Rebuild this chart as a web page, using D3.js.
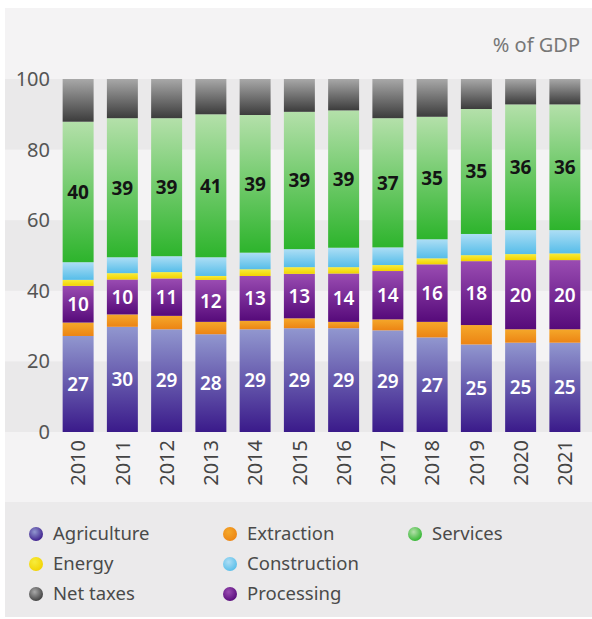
<!DOCTYPE html>
<html>
<head>
<meta charset="utf-8">
<script src="https://cdn.jsdelivr.net/npm/d3@7"></script>
<style>
  body { margin: 0; background: #fff; }
  text { font-family: "Noto Sans", sans-serif; }
</style>
</head>
<body>
<svg id="chart" width="592" height="619"></svg>
<script>
// shares of GDP, bottom to top of each bar
var years = ['2010', '2011', '2012', '2013', '2014', '2015', '2016', '2017', '2018', '2019', '2020', '2021']
var agriculture = [27.2, 29.8, 29.1, 27.7, 29.1, 29.4, 29.4, 28.8, 26.8, 24.8, 25.3, 25.3]
var extraction = [3.8, 3.5, 3.8, 3.5, 2.4, 2.8, 1.8, 3.1, 4.4, 5.5, 3.8, 3.8]
var processing = [10.4, 9.9, 10.6, 11.9, 12.7, 12.6, 13.7, 13.7, 16.3, 18.1, 19.6, 19.6]
var energy = [1.7, 1.8, 1.8, 1.1, 1.9, 1.9, 1.8, 1.7, 1.7, 1.7, 1.7, 1.9]
var construction = [5.0, 4.5, 4.5, 5.3, 4.7, 5.1, 5.5, 5.0, 5.4, 6.0, 6.8, 6.6]
var services = [39.8, 39.4, 39.1, 40.5, 39.0, 38.9, 38.9, 36.6, 34.7, 35.4, 35.6, 35.6]
var netTaxes = [12.1, 11.1, 11.1, 10.0, 10.2, 9.3, 8.9, 11.1, 10.7, 8.5, 7.2, 7.2]
var yTicks = [0, 20, 40, 60, 80, 100]

var series = [
  { key: 'Agriculture', values: agriculture, top: '#9197cf', bottom: '#3a1a8a', label: '#fff' },
  { key: 'Extraction', values: extraction, top: '#f5a82a', bottom: '#ec8414', label: null },
  { key: 'Processing', values: processing, top: '#9a4cb2', bottom: '#560a7a', label: '#fff' },
  { key: 'Energy', values: energy, top: '#f7ec3c', bottom: '#f2d200', label: null },
  { key: 'Construction', values: construction, top: '#addef5', bottom: '#56bde9', label: null },
  { key: 'Services', values: services, top: '#b4e0aa', bottom: '#2db42c', label: '#141414' },
  { key: 'Net taxes', values: netTaxes, top: '#a8a8a8', bottom: '#3c3c3c', label: null }
]
var legendOrder = ['Agriculture', 'Energy', 'Net taxes', 'Extraction', 'Construction', 'Processing', 'Services']

var svg = d3.select('#chart')

// panels
svg.append('rect').attr('x', 5).attr('y', 8).attr('width', 587).attr('height', 494).attr('fill', '#f4f3f4')
svg.append('rect').attr('x', 5).attr('y', 502).attr('width', 587).attr('height', 115).attr('fill', '#ebeaeb')

var x = d3.scaleBand().domain(years).range([56, 587]).paddingInner(0.3).paddingOuter(0.15)
var y = d3.scaleLinear().domain([0, 100]).range([432, 79])

// alternating bands: 0-20, 40-60, 80-100
;[[0, 20], [40, 60], [80, 100]].forEach(function (b) {
  svg.append('rect')
    .attr('x', 5).attr('width', 587)
    .attr('y', y(b[1]))
    .attr('height', y(b[0]) - y(b[1]))
    .attr('fill', '#eae9ea')
})

// gradients
var defs = svg.append('defs')
series.forEach(function (s, k) {
  var g = defs.append('linearGradient').attr('id', 'grad' + k)
    .attr('x1', 0).attr('y1', 0).attr('x2', 0).attr('y2', 1)
  g.append('stop').attr('offset', '0%').attr('stop-color', s.top)
  g.append('stop').attr('offset', '100%').attr('stop-color', s.bottom)
  var r = defs.append('radialGradient').attr('id', 'dot' + k).attr('cx', '40%').attr('cy', '35%').attr('r', '70%')
  r.append('stop').attr('offset', '0%').attr('stop-color', s.top)
  r.append('stop').attr('offset', '100%').attr('stop-color', s.bottom)
})

var table = years.map(function (yr, i) {
  var row = { year: yr }
  series.forEach(function (s) { row[s.key] = s.values[i] })
  return row
})
var stacked = d3.stack().keys(series.map(function (s) { return s.key }))(table)

var layers = svg.append('g').selectAll('g')
  .data(stacked)
  .join('g')
  .attr('fill', function (d, k) { return 'url(#grad' + k + ')' })

layers.selectAll('rect')
  .data(function (d) { return d })
  .join('rect')
  .attr('x', function (d) { return x(d.data.year) })
  .attr('width', x.bandwidth())
  .attr('y', function (d) { return y(d[1]) })
  .attr('height', function (d) { return y(d[0]) - y(d[1]) })

// value labels
stacked.forEach(function (layer, k) {
  var s = series[k]
  if (!s.label) return
  svg.append('g').selectAll('text')
    .data(layer)
    .join('text')
    .attr('x', function (d) { return x(d.data.year) + x.bandwidth() / 2 })
    .attr('y', function (d) { return (y(d[0]) + y(d[1])) / 2 })
    .attr('dy', '0.36em')
    .attr('text-anchor', 'middle')
    .attr('font-size', '19px')
    .attr('font-weight', s.key === 'Services' ? 700 : 600)
    .attr('fill', s.label)
    .text(function (d) { return Math.round(d[1] - d[0]) })
})

// y axis
var yAxis = svg.append('g')
  .attr('transform', 'translate(50,0)')
  .call(d3.axisLeft(y).tickValues(yTicks).tickSize(0).tickPadding(0))
yAxis.select('.domain').remove()
yAxis.selectAll('text')
  .attr('font-size', '20px')
  .attr('fill', '#555')
  .style('font-family', '"Noto Sans", sans-serif')

// x axis (rotated years)
var xAxis = svg.append('g')
  .attr('transform', 'translate(0,440)')
  .call(d3.axisBottom(x).tickSize(0).tickPadding(0))
xAxis.select('.domain').remove()
xAxis.selectAll('text')
  .attr('transform', 'rotate(-90)')
  .attr('text-anchor', 'end')
  .attr('x', 0).attr('y', 0).attr('dy', '0.36em')
  .attr('font-size', '20px')
  .attr('fill', '#444')
  .style('font-family', '"Noto Sans", sans-serif')

svg.append('text')
  .attr('x', 580).attr('y', 52)
  .attr('text-anchor', 'end')
  .attr('font-size', '20px')
  .attr('fill', '#777')
  .text('% of GDP')

// legend
var colX = [36, 230, 415]
var rowY = [534, 564, 594]
var legend = svg.append('g').selectAll('g')
  .data(legendOrder)
  .join('g')
  .attr('transform', function (d, i) {
    return 'translate(' + colX[Math.floor(i / 3)] + ',' + rowY[i % 3] + ')'
  })
legend.append('circle')
  .attr('r', 7)
  .attr('fill', function (d) {
    return 'url(#dot' + series.findIndex(function (s) { return s.key === d }) + ')'
  })
legend.append('text')
  .attr('x', 17).attr('dy', '0.35em')
  .attr('font-size', '18.5px')
  .attr('fill', '#4a4a4a')
  .text(function (d) { return d })
</script>
</body>
</html>
